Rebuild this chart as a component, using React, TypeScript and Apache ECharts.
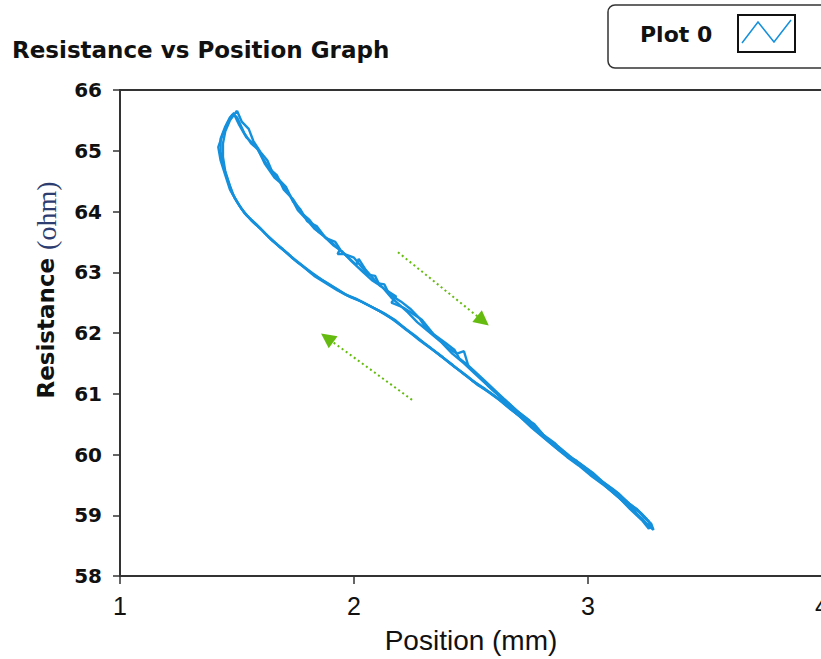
import React, { useEffect, useRef } from "react";
import * as echarts from "echarts";

const xTicks = [1, 2, 3, 4];
const yTicks = [58, 59, 60, 61, 62, 63, 64, 65, 66];

// Loop A: descending (right-going) branch then return branch
const loopA: number[][] = [
  [1.48, 65.62], [1.5, 65.55], [1.53, 65.3], [1.56, 65.12], [1.59, 65.02], [1.62, 64.78], [1.66, 64.56],
  [1.69, 64.46], [1.73, 64.24], [1.76, 64.02], [1.79, 63.9], [1.83, 63.72], [1.87, 63.6], [1.91, 63.45],
  [1.95, 63.34], [1.99, 63.18], [2.04, 63.0], [2.08, 62.86], [2.12, 62.76], [2.16, 62.58], [2.19, 62.48],
  [2.23, 62.34], [2.27, 62.18], [2.32, 62.02], [2.37, 61.86], [2.42, 61.66], [2.47, 61.5], [2.52, 61.32],
  [2.57, 61.14], [2.61, 61.0], [2.66, 60.82], [2.71, 60.68], [2.75, 60.56], [2.79, 60.38], [2.83, 60.24],
  [2.88, 60.1], [2.93, 59.94], [2.97, 59.84], [3.02, 59.7], [3.06, 59.56], [3.11, 59.42], [3.15, 59.28],
  [3.19, 59.14], [3.23, 59.02], [3.26, 58.9], [3.27, 58.8],
  [3.25, 58.86], [3.2, 59.06], [3.14, 59.26], [3.08, 59.46], [3.03, 59.62], [2.98, 59.78], [2.93, 59.92],
  [2.88, 60.06], [2.83, 60.22], [2.78, 60.4], [2.73, 60.56], [2.68, 60.72], [2.63, 60.88], [2.58, 61.02],
  [2.53, 61.14], [2.48, 61.3], [2.43, 61.44], [2.38, 61.6], [2.33, 61.74], [2.28, 61.88], [2.23, 62.04],
  [2.18, 62.2], [2.13, 62.32], [2.08, 62.42], [2.03, 62.52], [1.98, 62.6], [1.93, 62.7], [1.88, 62.82],
  [1.83, 62.94], [1.78, 63.1], [1.74, 63.22], [1.7, 63.36], [1.66, 63.5], [1.62, 63.64], [1.58, 63.8],
  [1.54, 63.94], [1.51, 64.1], [1.48, 64.3], [1.46, 64.52], [1.44, 64.76], [1.43, 64.98], [1.43, 65.2],
  [1.45, 65.4], [1.47, 65.55], [1.49, 65.62],
];

const loopB: number[][] = [
  [1.5, 65.66], [1.52, 65.48], [1.55, 65.36], [1.57, 65.16], [1.6, 64.98], [1.63, 64.84], [1.65, 64.66],
  [1.68, 64.52], [1.71, 64.4], [1.74, 64.16], [1.77, 64.04], [1.8, 63.84], [1.84, 63.76], [1.88, 63.56],
  [1.92, 63.5], [1.94, 63.38], [1.93, 63.3], [1.96, 63.3], [2.0, 63.24], [2.03, 63.1], [2.06, 62.96],
  [2.09, 62.94], [2.11, 62.78], [2.14, 62.7], [2.18, 62.6], [2.16, 62.5], [2.21, 62.42], [2.25, 62.32],
  [2.29, 62.22], [2.34, 61.98], [2.39, 61.84], [2.43, 61.72], [2.45, 61.58], [2.49, 61.46], [2.54, 61.28],
  [2.59, 61.1], [2.64, 60.92], [2.68, 60.78],
  [2.73, 60.6], [2.77, 60.5], [2.81, 60.32], [2.86, 60.18], [2.9, 60.0], [2.95, 59.9], [3.0, 59.74],
  [3.04, 59.62], [3.09, 59.46], [3.13, 59.36], [3.17, 59.2], [3.21, 59.1], [3.24, 58.96], [3.27, 58.86],
  [3.28, 58.76],
  [3.26, 58.82], [3.22, 58.98], [3.17, 59.16], [3.12, 59.34], [3.06, 59.52], [3.01, 59.66], [2.96, 59.82],
  [2.91, 59.96], [2.86, 60.12], [2.81, 60.28], [2.76, 60.44], [2.71, 60.62], [2.66, 60.78], [2.61, 60.94],
  [2.56, 61.08], [2.51, 61.2], [2.46, 61.36], [2.41, 61.5], [2.36, 61.66], [2.31, 61.8], [2.26, 61.96],
  [2.21, 62.1], [2.16, 62.24], [2.11, 62.36], [2.06, 62.46], [2.01, 62.56], [1.96, 62.64], [1.91, 62.76],
  [1.86, 62.88], [1.81, 63.02], [1.76, 63.16], [1.72, 63.3], [1.68, 63.42], [1.64, 63.56], [1.6, 63.72],
  [1.56, 63.86], [1.52, 64.04], [1.49, 64.22], [1.47, 64.42], [1.45, 64.66], [1.44, 64.9], [1.44, 65.12],
  [1.45, 65.32], [1.47, 65.5], [1.5, 65.66],
];

const loopC: number[][] = [
  [1.49, 65.58], [1.51, 65.42], [1.54, 65.22], [1.58, 65.08], [1.61, 64.88], [1.64, 64.7], [1.67, 64.6],
  [1.7, 64.36], [1.74, 64.2], [1.78, 63.96], [1.81, 63.86], [1.85, 63.66], [1.89, 63.54], [1.93, 63.4],
  [1.97, 63.26], [2.01, 63.12], [2.02, 63.22], [2.05, 63.04], [2.1, 62.82], [2.13, 62.8], [2.15, 62.64],
  [2.2, 62.52], [2.24, 62.4], [2.28, 62.24], [2.3, 62.12], [2.35, 61.94], [2.4, 61.76], [2.44, 61.66],
  [2.47, 61.7], [2.49, 61.44], [2.51, 61.38], [2.55, 61.22], [2.6, 61.04], [2.65, 60.88], [2.7, 60.7],
  [2.74, 60.58], [2.78, 60.44], [2.82, 60.28], [2.87, 60.14], [2.92, 59.98], [2.96, 59.86], [3.01, 59.72],
  [3.05, 59.58], [3.1, 59.44], [3.14, 59.32], [3.18, 59.18], [3.22, 59.06], [3.25, 58.94], [3.27, 58.84],
  [3.26, 58.78], [3.23, 58.92], [3.18, 59.1], [3.13, 59.3], [3.07, 59.5], [3.02, 59.66], [2.97, 59.8],
  [2.92, 59.94], [2.87, 60.1], [2.82, 60.26], [2.77, 60.42], [2.72, 60.6], [2.67, 60.74], [2.62, 60.9],
  [2.57, 61.04], [2.52, 61.18], [2.47, 61.32], [2.42, 61.48], [2.37, 61.62], [2.32, 61.78], [2.27, 61.92],
  [2.22, 62.06], [2.17, 62.22], [2.12, 62.34], [2.07, 62.44], [2.02, 62.54], [1.97, 62.62], [1.92, 62.74],
  [1.87, 62.86], [1.82, 62.98], [1.77, 63.14], [1.73, 63.26], [1.69, 63.4], [1.65, 63.52], [1.61, 63.68],
  [1.57, 63.82], [1.53, 63.98], [1.5, 64.16], [1.47, 64.36], [1.45, 64.6], [1.43, 64.84], [1.42, 65.06],
  [1.44, 65.28], [1.46, 65.46], [1.48, 65.6],
];

// Direction arrows (start, end) in data coordinates
const arrowDown = [[2.188, 63.33], [2.551, 62.2]];
const arrowUp = [[2.248, 60.9], [1.885, 61.92]];

const LINE = "#1590dc";
const GREEN = "#66bb11";

export default function App() {
  const ref = useRef<HTMLDivElement>(null);
  useEffect(() => {
    if (!ref.current) return;
    const chart = echarts.init(ref.current, undefined, { renderer: "svg" });
    const lineSeries = (data: number[][], i: number) => ({
      type: "line",
      data,
      showSymbol: false,
      symbol: "none",
      lineStyle: { color: LINE, width: 2.4 },
      z: 2,
      ...(i === 0
        ? {
            markLine: {
              silent: true,
              symbol: ["none", "triangle"],
              symbolSize: 15,
              label: { show: false },
              lineStyle: { color: GREEN, type: [2, 3], width: 2 },
              itemStyle: { color: GREEN },
              emphasis: { disabled: true },
              data: [
                [{ coord: arrowDown[0] }, { coord: arrowDown[1], symbol: "triangle", symbolSize: 15 }],
                [{ coord: arrowUp[0] }, { coord: arrowUp[1], symbol: "triangle", symbolSize: 15 }],
              ],
            },
          }
        : {}),
    });
    chart.setOption({
      animation: false,
      backgroundColor: "#ffffff",
      grid: {
        left: 120,
        top: 90,
        width: 702,
        height: 486,
        show: true,
        borderColor: "#333",
        borderWidth: 2,
        backgroundColor: "transparent",
        outerBoundsMode: "none",
        containLabel: false,
      },
      xAxis: {
        type: "value",
        min: xTicks[0],
        max: xTicks[xTicks.length - 1],
        interval: 1,
        name: "Position (mm)",
        nameLocation: "middle",
        nameGap: 50,
        nameTextStyle: { fontFamily: "Liberation Sans Narrow, Liberation Sans", fontSize: 28, color: "#111" },
        axisLine: { show: true, lineStyle: { color: "#333", width: 2 } },
        axisTick: { show: true, length: 8, lineStyle: { color: "#333", width: 1.5 } },
        axisLabel: {
          fontFamily: "Liberation Sans Narrow, Liberation Sans",
          fontSize: 25,
          color: "#111",
          margin: 17,
        },
        splitLine: { show: false },
      },
      yAxis: {
        type: "value",
        min: yTicks[0],
        max: yTicks[yTicks.length - 1],
        interval: 1,
        axisLine: { show: true, lineStyle: { color: "#333", width: 2 } },
        axisTick: { show: true, length: 7, lineStyle: { color: "#333", width: 1.5 } },
        axisLabel: {
          fontFamily: "DejaVu Sans",
          fontWeight: "bold",
          fontSize: 20,
          color: "#111",
          margin: 18,
        },
        splitLine: { show: false },
      },
      series: [loopA, loopB, loopC].map((d, i) => lineSeries(d, i)),
      graphic: [
        {
          type: "text",
          left: 12,
          top: 38,
          style: {
            text: "Resistance vs Position Graph",
            fontFamily: "DejaVu Sans",
            fontWeight: "bold",
            fontSize: 23,
            fill: "#111",
          },
        },
        {
          type: "text",
          x: 46,
          y: 290,
          rotation: Math.PI / 2,
          style: {
            text: "{a|Resistance }{b|(ohm)}",
            align: "center",
            verticalAlign: "middle",
            rich: {
              a: { fontFamily: "DejaVu Sans", fontWeight: "bold", fontSize: 23, fill: "#111" },
              b: { fontFamily: "Liberation Serif", fontSize: 28, fill: "#2e3d70" },
            },
          },
        },
        {
          type: "rect",
          shape: { x: 608, y: 5, width: 240, height: 63, r: 7 },
          style: { fill: "#fff", stroke: "#333", lineWidth: 1.5 },
        },
        {
          type: "text",
          x: 640,
          y: 34,
          style: {
            text: "Plot 0",
            fontFamily: "DejaVu Sans",
            fontWeight: "bold",
            fontSize: 22,
            fill: "#111",
            verticalAlign: "middle",
          },
        },
        {
          type: "rect",
          shape: { x: 738, y: 15, width: 57, height: 37 },
          style: { fill: "#fff", stroke: "#111", lineWidth: 2 },
        },
        {
          type: "polyline",
          shape: { points: [[742, 43], [758, 22], [774, 42], [791, 20]] },
          style: { stroke: LINE, lineWidth: 1.5, fill: "none" },
        },
      ],
    });
    return () => chart.dispose();
  }, []);
  return (
    <div
      ref={ref}
      style={{ position: "fixed", left: 0, top: 0, width: 821, height: 659, background: "#fff" }}
    />
  );
}
